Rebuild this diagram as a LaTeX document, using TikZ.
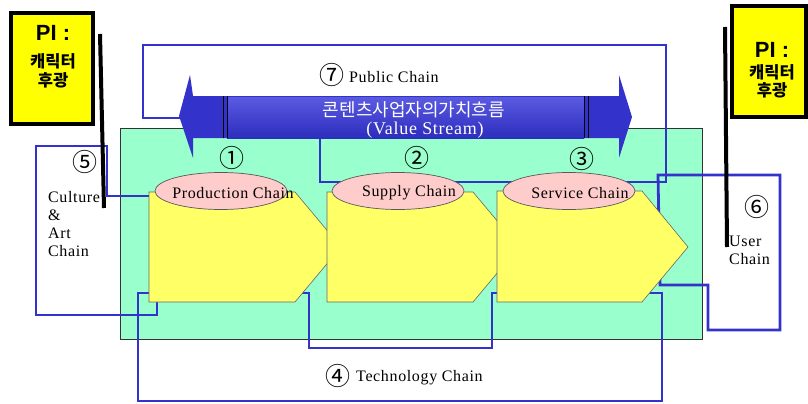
\documentclass[tikz,border=0pt]{standalone}
\usepackage{fontspec}
\setmainfont{Liberation Serif}
\newfontfamily\lat[LetterSpace=4]{Liberation Serif}
\newfontfamily\kr{Noto Sans CJK KR}
\newfontfamily\pisans{Liberation Sans}
\usetikzlibrary{shapes.geometric}
\definecolor{lineblue}{RGB}{51,51,204}
\definecolor{mint}{RGB}{153,255,204}
\definecolor{chev}{RGB}{255,255,102}
\definecolor{pinkfill}{RGB}{255,204,204}
\definecolor{arrowblue}{RGB}{51,51,204}
\definecolor{arrowlight}{RGB}{90,90,225}
\definecolor{arrowdark}{RGB}{45,45,190}
\definecolor{piyellow}{RGB}{255,255,0}
\tikzset{
  chainline/.style={draw=lineblue, line width=2.8pt, line join=miter},
  chevron/.style={fill=chev, draw=black!60, line width=0.6pt},
  pill/.style={ellipse, fill=pinkfill, draw=black!65, line width=0.7pt, minimum width=132pt, minimum height=37pt, inner sep=0pt},
  lbl/.style={font=\lat\fontsize{16}{18}\selectfont, inner sep=0pt},
  num/.style={font=\kr\fontsize{25}{26}\selectfont, inner sep=0pt},
  pibox/.style={fill=piyellow, draw=black, line width=3.5pt, inner sep=0pt},
  pitext/.style={font=\pisans\bfseries\fontsize{22}{24}\selectfont, inner sep=0pt},
  pikr/.style={font=\kr\bfseries\fontsize{16.5}{18}\selectfont, inner sep=0pt},
  shadowline/.style={draw=black, line width=4pt},
}
\begin{document}
\begin{tikzpicture}[x=1pt,y=-1pt]
\useasboundingbox (0,0) rectangle (808,404);
\fill[white] (0,0) rectangle (808,404);

% green field
\filldraw[fill=mint, draw=black!80, line width=0.8pt] (120,128) rectangle (702,339);

% chain lines
\draw[chainline] (320,138) -- (320,182) -- (666,182) -- (666,45) -- (143,45) -- (143,118) -- (184,118);
\draw[chainline] (155,196) -- (107,196) -- (107,146) -- (36,146) -- (36,315) -- (157,315) -- (157,296);
\draw[chainline] (155,293) -- (138,293) -- (138,401) -- (662,401) -- (662,293) -- (640,293);
\draw[chainline] (296,293) -- (309,293) -- (309,348) -- (492,348) -- (492,293) -- (500,293);
\draw[chainline] (658,175) -- (780,175) -- (780,330) -- (708,330) -- (708,285) -- (660,285) -- cycle;

% black bars
\draw[shadowline] (100,34) -- (104,208);
\draw[shadowline] (725,27) -- (727,247);

% chevrons
\filldraw[chevron] (149,192) -- (295,192) -- (341,247) -- (295,302) -- (149,302) -- cycle;
\filldraw[chevron] (327,192) -- (473,192) -- (519,247) -- (473,302) -- (327,302) -- cycle;
\filldraw[chevron] (497,191) -- (642,191) -- (688,247) -- (642,302) -- (497,302) -- cycle;

% ellipses and labels
\node[pill] (e1) at (221,191) {};
\node[pill] (e2) at (398,191) {};
\node[pill] (e3) at (569,191) {};
\node[lbl] (t1) at (233,193) {Production Chain};
\node[lbl] (t2) at (409,193) {Supply Chain};
\node[lbl] (t3) at (580,193) {Service Chain};

% big arrow
\fill[arrowblue] (179,116) -- (190,75) -- (193,96) -- (619,96) -- (619,75) -- (632,117) -- (619,158) -- (619,138) -- (193,138) -- (193,158) -- cycle;
\shade[top color=arrowlight, bottom color=arrowdark] (227,97) rectangle (584,138);
\draw[black, line width=1pt] (223,96) -- (223,138) (227,96) -- (227,138);
\draw[black, line width=1pt] (584,96) -- (584,138) (588,96) -- (588,138);
\node[font=\kr\fontsize{18}{20}\selectfont, text=white, inner sep=0pt] (vs1) at (414,110) {콘텐츠사업자의가치흐름};
\node[font=\lat\fontsize{18}{20}\selectfont, text=white, inner sep=0pt] (vs2) at (425,130) {(Value Stream)};

% numbers
\node[num] (n1) at (232,158) {①};
\node[num] (n2) at (417,158) {②};
\node[num] (n3) at (582,159) {③};
\node[num] (n4) at (338,376) {④};
\node[num] (n5) at (85,162) {⑤};
\node[num] (n6) at (757,207) {⑥};
\node[num] (n7) at (332,75) {⑦};

% chain names
\node[lbl, anchor=west] (pub) at (349,77) {Public Chain};
\node[lbl, anchor=west] (tech) at (356,378) {Technology Chain};
\node[lbl, align=left, anchor=north west] (cul) at (48,191) {Culture\\\&\\Art\\Chain};
\node[lbl, align=left, anchor=north west] (usr) at (729,236) {User\\Chain};

% PI boxes
\node[pibox, minimum width=82pt, minimum height=111pt] (pi1) at (52,68.5) {};
\node[pitext] (pi1a) at (53,33) {PI :};
\node[pikr] (pi1b) at (53,61) {캐릭터};
\node[pikr] (pi1c) at (53,80) {후광};
\node[pibox, minimum width=74pt, minimum height=111pt] (pi2) at (769,61.5) {};
\node[pitext] (pi2a) at (772,50) {PI :};
\node[pikr] (pi2b) at (772,72) {캐릭터};
\node[pikr] (pi2c) at (772,90) {후광};
\end{tikzpicture}
\end{document}
